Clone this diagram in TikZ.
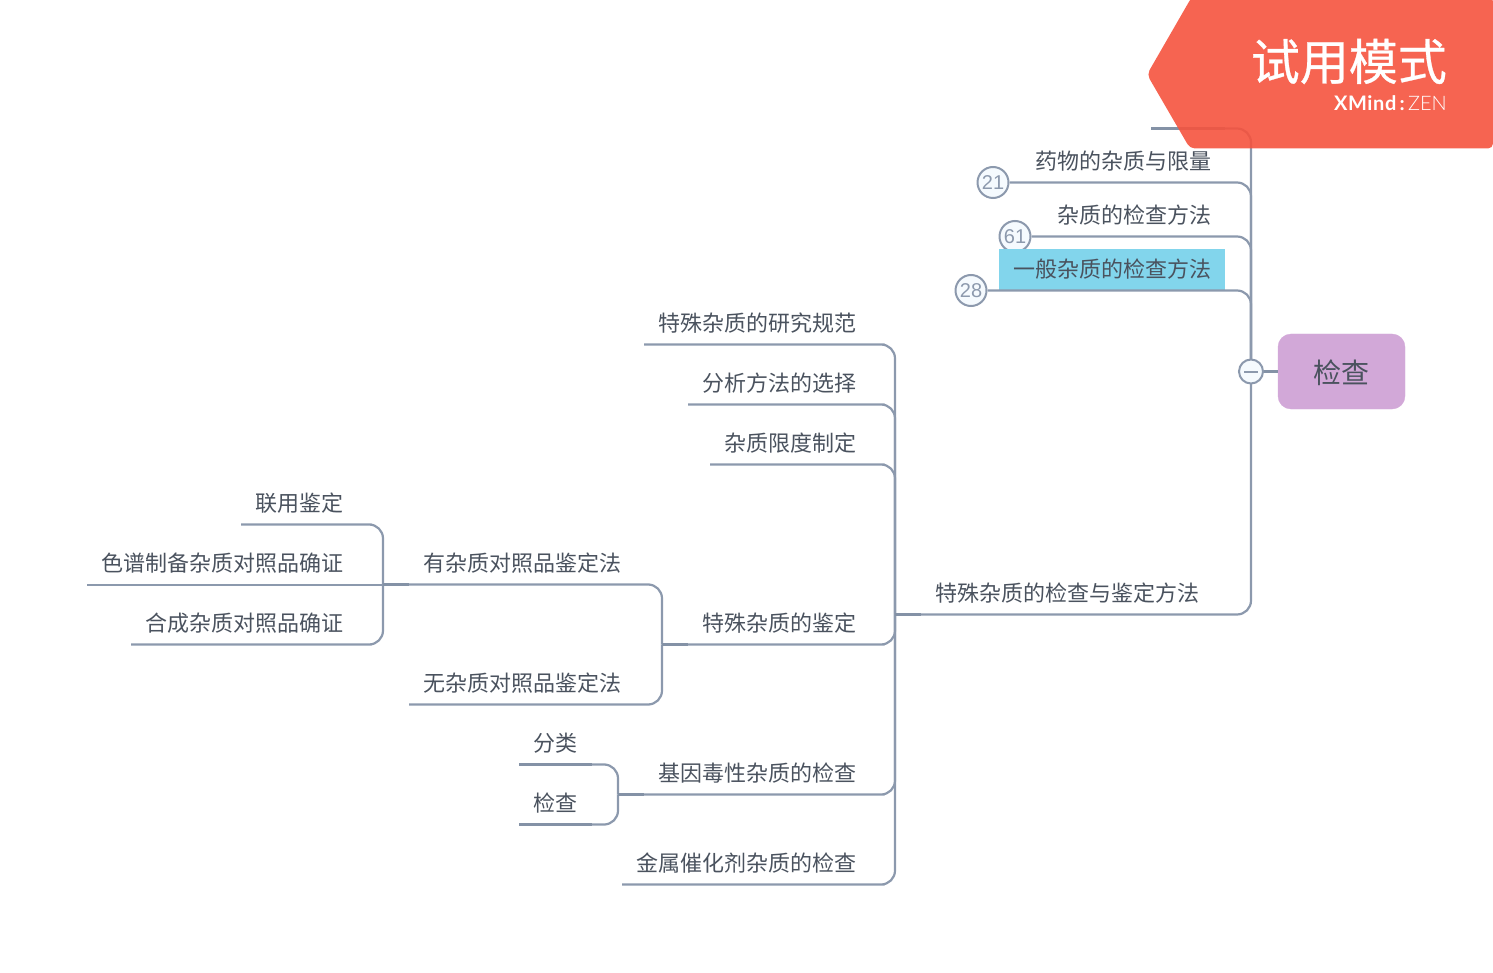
\documentclass[tikz,border=0pt]{standalone}
\usepackage{fontspec}
\setmainfont{Noto Sans CJK SC}
\newfontfamily\bannerfont[FakeBold=0.6]{Noto Sans CJK SC}
\newfontfamily\badgefont{Liberation Sans}
\newfontfamily\logobold[LetterSpace=3]{Lato}[BoldFont={Lato Bold}]
\newfontfamily\logolight{Lato Light}
\definecolor{linegray}{HTML}{8C99AD}
\definecolor{stubgray}{HTML}{8492A6}
\definecolor{textgray}{HTML}{4A525E}
\definecolor{rootpurple}{HTML}{D2A8D8}
\definecolor{markblue}{HTML}{82D5EC}
\definecolor{badgefill}{HTML}{F5FAFE}
\definecolor{bannerred}{HTML}{F5533E}
\tikzset{
  topic/.style={anchor=south east,xshift=.6pt,inner xsep=14pt,inner ysep=0pt,minimum height=44pt,
    text height=21pt,text depth=2pt,text=textgray,font=\fontsize{22}{22}\selectfont},
  branch/.style={draw=linegray,line width=2.2pt,rounded corners=14pt},
  stub/.style={draw=stubgray,line width=3pt},
  badge/.style={circle,draw=linegray,line width=2pt,fill=badgefill,minimum size=31pt,inner sep=0pt,
    text=linegray,font=\badgefont\fontsize{20}{20}\selectfont},
}
\begin{document}
\begin{tikzpicture}[x=1pt,y=-1pt]
\useasboundingbox (0,-0.5) rectangle (1493,972.5);

\node[draw=rootpurple,fill=rootpurple,rounded corners=13pt,minimum width=127pt,minimum height=75pt,
  inner sep=0pt,text height=23pt,text depth=0pt,text=textgray,font=\fontsize{28}{28}\selectfont] (root) at (1341.5,371){检查};
\coordinate (toggle) at (1251,371);
\coordinate (spineA) at (895,614);
\coordinate (spineB) at (662,644);
\coordinate (spineC) at (383,584);
\coordinate (spineD) at (618,794);

\node[topic,minimum width=73pt] (blank) at (1224,128){};
\node[topic] (limit) at (1225,182){药物的杂质与限量};
\node[topic] (method) at (1225,236){杂质的检查方法};
\node[badge] (num61) at (1015,236){61};
\node[topic,fill=markblue,minimum height=41pt,text height=19.5pt,text depth=3.5pt] (general) at (1225,290){一般杂质的检查方法};
\node[badge] (num21) at (993,182){21};
\node[badge] (num28) at (971,290){28};
\node[topic] (special) at (1213,614){特殊杂质的检查与鉴定方法};

\node[topic] (norm) at (870,344){特殊杂质的研究规范};
\node[topic] (choice) at (870,404){分析方法的选择};
\node[topic] (degree) at (870,464){杂质限度制定};
\node[topic] (identify) at (870,644){特殊杂质的鉴定};
\node[topic] (gene) at (870,794){基因毒性杂质的检查};
\node[topic] (metal) at (870,884){金属催化剂杂质的检查};

\node[topic] (withref) at (635,584){有杂质对照品鉴定法};
\node[topic] (noref) at (635,704){无杂质对照品鉴定法};
\node[topic] (combo) at (357,524){联用鉴定};
\node[topic] (prep) at (357,584){色谱制备杂质对照品确证};
\node[topic] (synth) at (357,644){合成杂质对照品确证};
\node[topic] (classify) at (591,764){分类};
\node[topic] (inspect) at (591,824){检查};

\draw[branch] (blank.south west) -| (toggle);
\draw[branch] (num21.east) -| (toggle);
\draw[branch] (num61.east) -| (toggle);
\draw[branch] (num28.east) -| (toggle);
\draw[branch] (spineA) -| (toggle);

\foreach \name in {norm,choice,degree,identify,gene,metal}{
    \draw[branch] (\name.south west) -- (\name.south east) -| (spineA);
}
\foreach \name in {withref,noref}{
    \draw[branch] (\name.south west) -- (\name.south east) -| (spineB);
}
\foreach \name in {combo,synth}{
    \draw[branch] (\name.south west) -- (\name.south east) -| (spineC);
}
\foreach \name in {classify,inspect}{
    \draw[branch] (\name.south west) -- (\name.south east) -| (spineD);
}
\draw[branch,line width=2pt] (prep.south west) -- (spineC);

\draw[stub] (spineA) -- (special.south west);
\draw[stub] (spineB) -- (identify.south west);
\draw[stub] (spineC) -- (withref.south west);
\draw[stub] (spineD) -- (gene.south west);
\foreach \name in {blank,classify,inspect}{
    \draw[stub] (\name.south west) -- (\name.south east);
}
\draw[stub] (root.west) -- (toggle);
\node[circle,draw=linegray,line width=2pt,fill=badgefill,minimum size=24pt,inner sep=0pt] (togglemark) at (toggle){};
\draw[draw=linegray,line width=2pt] ([xshift=-7pt]togglemark.center) -- ([xshift=7pt]togglemark.center);

\fill[bannerred,fill opacity=.9,rounded corners=5pt] (1192,-4) -- (1147,74) -- (1190,148) -- (1493,148) -- (1493,-4) -- cycle;
\node[anchor=east,inner sep=0pt,text=white,font=\bannerfont\fontsize{49}{49}\selectfont] (trial) at (1447,61){试用模式};
\node[anchor=east,inner sep=0pt,text=white,font=\fontsize{20}{20}\selectfont] (brand) at (1447,103){{\logobold\bfseries XMind}\,{\logobold\bfseries:}\,{\logolight ZEN}};
\end{tikzpicture}
\end{document}
